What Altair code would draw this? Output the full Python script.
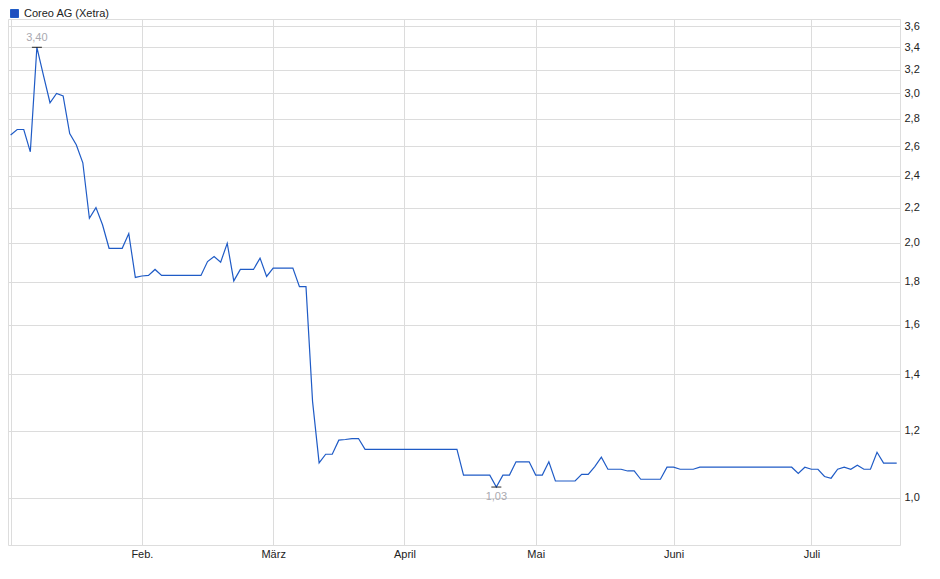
import altair as alt
import pandas as pd

# Closing prices (EUR) per trading day
prices = [
    2.68, 2.72, 2.72, 2.56, 3.40, 3.15, 2.925, 3.00, 2.98, 2.69,
    2.61, 2.485, 2.137, 2.20, 2.10, 1.97, 1.97, 1.97, 2.05, 1.82,
    1.827, 1.83, 1.86, 1.83, 1.83, 1.83, 1.83, 1.83, 1.83, 1.83,
    1.90, 1.926, 1.897, 1.997, 1.803, 1.86, 1.86, 1.86, 1.918, 1.825,
    1.867, 1.867, 1.867, 1.867, 1.775, 1.775, 1.30, 1.10, 1.126, 1.126,
    1.17, 1.172, 1.175, 1.175, 1.141, 1.141, 1.141, 1.141, 1.141, 1.141,
    1.141, 1.141, 1.141, 1.141, 1.141, 1.141, 1.141, 1.141, 1.141, 1.064,
    1.064, 1.064, 1.064, 1.064, 1.03, 1.064, 1.064, 1.103, 1.103, 1.103,
    1.064, 1.064, 1.103, 1.047, 1.047, 1.047, 1.047, 1.066, 1.066, 1.089,
    1.117, 1.081, 1.081, 1.081, 1.076, 1.076, 1.052, 1.052, 1.052, 1.052,
    1.087, 1.087, 1.081, 1.081, 1.081, 1.087, 1.087, 1.087, 1.087, 1.087,
    1.087, 1.087, 1.087, 1.087, 1.087, 1.087, 1.087, 1.087, 1.087, 1.087,
    1.069, 1.087, 1.081, 1.081, 1.06, 1.055, 1.081, 1.087, 1.081, 1.093,
    1.081, 1.081, 1.132, 1.099, 1.099, 1.099,
]
series_name = "Coreo AG (Xetra)"

# month start positions (trading-day index) and their labels
month_ticks = [0, 20, 40, 60, 80, 101, 122]
month_labels = ["", "Feb.", "März", "April", "Mai", "Juni", "Juli"]

y_ticks = [1.0, 1.2, 1.4, 1.6, 1.8, 2.0, 2.2, 2.4, 2.6, 2.8, 3.0, 3.2, 3.4, 3.6]

df = pd.DataFrame({
    "day": list(range(len(prices))),
    "price": prices,
    "series": [series_name] * len(prices),
})

i_max = max(range(len(prices)), key=lambda i: prices[i])
i_min = min(range(len(prices)), key=lambda i: prices[i])
ann_max = pd.DataFrame({"day": [i_max], "price": [prices[i_max]],
                        "label": [f"{prices[i_max]:.2f}".replace(".", ",")]})
ann_min = pd.DataFrame({"day": [i_min], "price": [prices[i_min]],
                        "label": [f"{prices[i_min]:.2f}".replace(".", ",")]})

FONT = "Liberation Sans"

label_expr = " : ".join(
    f"datum.value == {t} ? '{l}'" for t, l in zip(month_ticks, month_labels)
) + " : ''"

x_enc = alt.X(
    "day:Q",
    scale=alt.Scale(domain=[-0.4, 135.5], nice=False, zero=False),
    axis=alt.Axis(
        title=None, values=month_ticks, labelExpr=label_expr,
        grid=True, gridColor="#dcdcdc", gridWidth=1,
        domain=False, ticks=False, labelPadding=3,
        labelFont=FONT, labelFontSize=11, labelColor="#222222",
    ),
)
y_enc = alt.Y(
    "price:Q",
    scale=alt.Scale(type="log", domain=[0.88, 3.672], nice=False, zero=False),
    axis=alt.Axis(
        title=None, orient="right", values=y_ticks,
        labelExpr="replace(format(datum.value, '.1f'), '.', ',')",
        grid=True, gridColor="#dcdcdc", gridWidth=1,
        domain=False, ticks=False, labelPadding=4,
        labelFont=FONT, labelFontSize=11, labelColor="#222222",
    ),
)

line = alt.Chart(df).mark_line(strokeWidth=1.2, interpolate="linear").encode(
    x=x_enc,
    y=y_enc,
    color=alt.Color(
        "series:N",
        scale=alt.Scale(range=["#1f5bc6"]),
        legend=alt.Legend(
            title=None, orient="none", legendX=1, legendY=-11,
            symbolType="square", symbolSize=64,
            symbolFillColor="#1f4fbf", symbolStrokeColor="#1a2f6a",
            symbolStrokeWidth=1, symbolOpacity=1,
            labelFont=FONT, labelFontSize=11, labelColor="#222222",
            labelOffset=4, padding=0,
        ),
    ),
)

tick_max = alt.Chart(ann_max).mark_tick(
    orient="horizontal", size=10, thickness=1.2, color="black"
).encode(x="day:Q", y="price:Q")
text_max = alt.Chart(ann_max).mark_text(
    dy=-9, font=FONT, fontSize=11, color="#a9a9b0"
).encode(x="day:Q", y="price:Q", text="label:N")

tick_min = alt.Chart(ann_min).mark_tick(
    orient="horizontal", size=10, thickness=1.2, color="black"
).encode(x="day:Q", y="price:Q")
text_min = alt.Chart(ann_min).mark_text(
    dy=10, font=FONT, fontSize=11, color="#a9a9b0"
).encode(x="day:Q", y="price:Q", text="label:N")

chart = alt.layer(line, tick_max, text_max, tick_min, text_min).properties(
    width=892, height=526,
    autosize=alt.AutoSizeParams(type="none"),
    padding={"left": 0, "top": 11, "right": 30, "bottom": 30},
).configure_view(
    stroke="#d9d9d9", strokeWidth=1
).configure(background="white")

chart.save("out.html", embed_options={"renderer": "svg", "actions": False})
